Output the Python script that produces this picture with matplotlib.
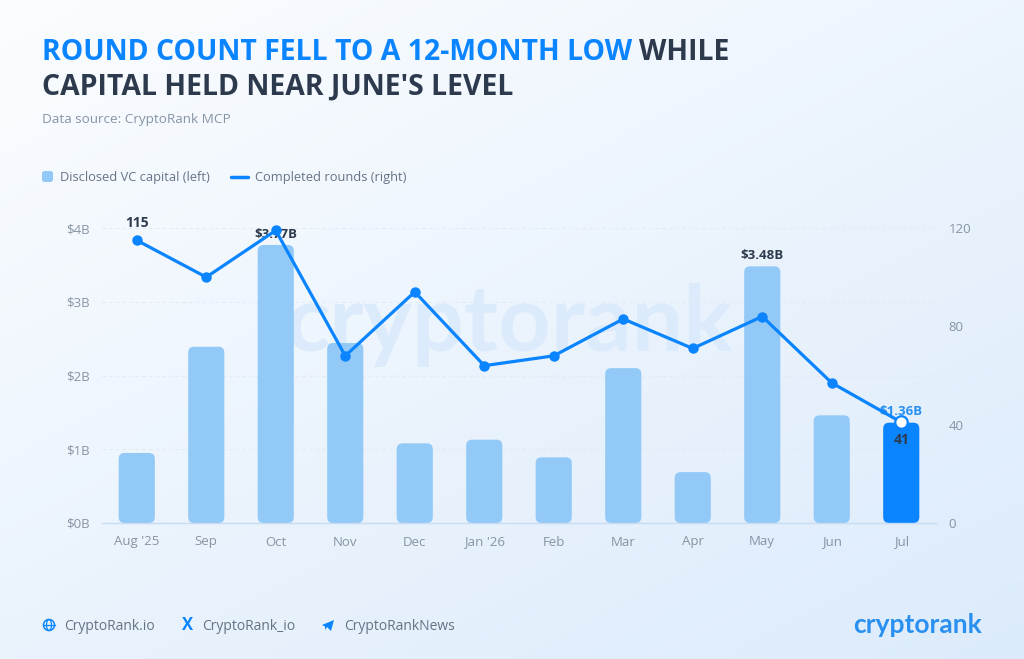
import numpy as np
import matplotlib as mpl
mpl.use('Agg')
import matplotlib.pyplot as plt
from matplotlib.patches import FancyBboxPatch, Circle, Ellipse, Polygon

months = ["Aug '25", "Sep", "Oct", "Nov", "Dec", "Jan '26", "Feb", "Mar", "Apr", "May", "Jun", "Jul"]
capital = [0.95, 2.39, 3.77, 2.44, 1.08, 1.13, 0.89, 2.10, 0.69, 3.48, 1.46, 1.36]
rounds = [115, 100, 119, 68, 94, 64, 68, 83, 71, 84, 57, 41]
left_ticks = [0, 1, 2, 3, 4]
left_labels = ["$0B", "$1B", "$2B", "$3B", "$4B"]
right_ticks = [0, 40, 80, 120]

BLUE = '#0a84ff'
LIGHT = '#93c9f6'
DARK = '#2d3a4d'
GRAY = '#8794a3'
TEXT = '#667385'

plt.rcParams['font.family'] = ['Open Sans', 'DejaVu Sans']

W, H = 1024, 659
fig = plt.figure(figsize=(W / 100, H / 100), dpi=100)

# background gradient, near white top left to pale blue bottom right
bg = fig.add_axes([0, 0, 1, 1], zorder=0)
xx, yy = np.meshgrid(np.linspace(0, 1, 128), np.linspace(0, 1, 128))
t = (xx * 0.45 + yy * 0.55)[..., None]
c0 = np.array([0xfb, 0xfd, 0xff]) / 255
c1 = np.array([0xdc, 0xeb, 0xfb]) / 255
bg.imshow(c0 + (c1 - c0) * t, extent=[0, W, H, 0], aspect='auto', interpolation='bilinear')
bg.set_xlim(0, W)
bg.set_ylim(H, 0)
bg.axis('off')

# watermark sits behind the bars
bg.text(510, 325, 'cryptorank', fontsize=66, color='#dcebfb', ha='center', va='center',
        family='Lato', weight='bold')

ax = fig.add_axes([102 / W, 1 - 523 / H, 834 / W, 295 / H], zorder=1)
ax.patch.set_alpha(0)
x = np.arange(len(months))
ax.set_xlim(-0.5, 11.5)
ax.set_ylim(0, 4)

bar_w = 0.52
px_x = 834 / 12
px_y = 295 / 4
for i, v in enumerate(capital):
    color = BLUE if i == len(capital) - 1 else LIGHT
    ax.add_patch(FancyBboxPatch((x[i] - bar_w / 2, 0), bar_w, v,
                                boxstyle='round,pad=0,rounding_size=0.085',
                                mutation_aspect=px_x / px_y, fc=color, ec='none', zorder=2))

ax.set_yticks(left_ticks)
ax.set_yticklabels(left_labels)
ax.set_xticks(x)
ax.set_xticklabels(months)
ax.tick_params(length=0, labelsize=9.5, labelcolor=GRAY)
ax.tick_params(axis='x', pad=9)
ax.tick_params(axis='y', pad=9)
ax.grid(axis='y', color='#e2ebf5', lw=0.8, ls=(0, (3, 3)), zorder=1)
ax.set_axisbelow(True)
for s in ['top', 'left', 'right']:
    ax.spines[s].set_visible(False)
ax.spines['bottom'].set_color('#c6dcf2')
ax.spines['bottom'].set_linewidth(1)

ax.text(2, capital[2] + 0.06, '$3.77B', fontsize=9.5, weight='bold', color=DARK, ha='center',
        va='bottom', zorder=3)
ax.text(9, capital[9] + 0.06, '$3.48B', fontsize=9.5, weight='bold', color=DARK, ha='center',
        va='bottom', zorder=3)
ax.text(11, capital[11] + 0.06, '$1.36B', fontsize=9.5, weight='bold', color='#2a90f0',
        ha='center', va='bottom', zorder=3)

ax2 = ax.twinx()
ax2.set_zorder(2)
ax2.patch.set_alpha(0)
ax2.set_ylim(0, 120)
ax2.set_yticks(right_ticks)
ax2.tick_params(length=0, labelsize=9.5, labelcolor=GRAY, pad=9)
for s in ax2.spines.values():
    s.set_visible(False)
ax2.plot(x, rounds, color=BLUE, lw=2.3, marker='o', ms=6.5, mfc=BLUE, mec=BLUE, clip_on=False, zorder=4)
ax2.plot(x[-1], rounds[-1], marker='o', ms=9, mfc='white', mec=BLUE, mew=1.6, clip_on=False, zorder=5)
ax2.annotate(str(rounds[0]), (x[0], rounds[0]), xytext=(0, 7.5), textcoords='offset points',
             ha='center', va='bottom', fontsize=10, weight='bold', color=DARK, zorder=6)
ax2.annotate(str(rounds[-1]), (x[-1], rounds[-1]), xytext=(0, -7.5), textcoords='offset points',
             ha='center', va='top', fontsize=10, weight='bold', color=DARK, zorder=6)

# title, subtitle, legend and footer in pixel coordinates
top = fig.add_axes([0, 0, 1, 1], zorder=3)
top.set_xlim(0, W)
top.set_ylim(H, 0)
top.axis('off')
title_first = top.text(42, 53, 'ROUND COUNT FELL TO A 12-MONTH LOW', fontsize=20.4, weight='bold',
                       color=BLUE, va='center')
fig.canvas.draw()
end_x = title_first.get_window_extent().x1
top.text(end_x + 7, 53, 'WHILE', fontsize=20.4, weight='bold', color=DARK, va='center')
top.text(42, 87, "CAPITAL HELD NEAR JUNE'S LEVEL", fontsize=20.4, weight='bold', color=DARK, va='center')
top.text(42, 119, 'Data source: CryptoRank MCP', fontsize=9.7, color=GRAY, va='center')

top.add_patch(FancyBboxPatch((42, 171), 11, 11, boxstyle='round,pad=0,rounding_size=2.5',
                             fc=LIGHT, ec='none'))
top.text(60, 177.5, 'Disclosed VC capital (left)', fontsize=9.3, color=TEXT, va='center')
top.plot([231, 248], [177, 177], color=BLUE, lw=2.5, solid_capstyle='round')
top.text(255, 177.5, 'Completed rounds (right)', fontsize=9.3, color=TEXT, va='center')

# globe icon
top.add_patch(Circle((49, 625), 5.5, fc='none', ec=BLUE, lw=1.1))
top.add_patch(Ellipse((49, 625), 5, 11, fc='none', ec=BLUE, lw=0.9))
top.plot([43.5, 54.5], [625, 625], color=BLUE, lw=0.9)
top.text(64, 626, 'CryptoRank.io', fontsize=10, color=TEXT, va='center')
top.text(187.5, 625, 'X', fontsize=12, weight='bold', color=BLUE, va='center', ha='center')
top.text(202, 626, 'CryptoRank_io', fontsize=10, color=TEXT, va='center')
# telegram icon
top.add_patch(Polygon([(322, 625), (334, 620), (331, 631), (327, 627), (325, 630), (325, 626.5)],
                      fc=BLUE, ec='none'))
top.text(344, 626, 'CryptoRankNews', fontsize=10, color=TEXT, va='center')
top.text(982, 625, 'cryptorank', fontsize=19, color='#2a90f0', ha='right', va='center',
         family='Lato', weight='bold')

fig.savefig('out.png', dpi=100)
